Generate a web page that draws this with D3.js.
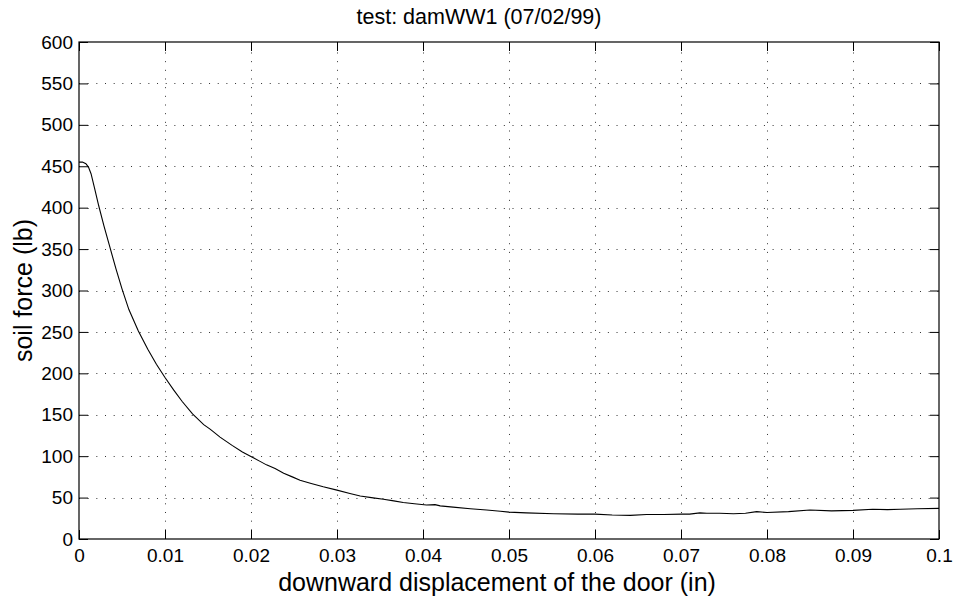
<!DOCTYPE html>
<html>
<head>
<meta charset="utf-8">
<script src="https://cdn.jsdelivr.net/npm/d3@7"></script>
<style>
  html, body { margin: 0; padding: 0; background: #fff; }
  svg { display: block; font-family: "Liberation Sans", Arial, Helvetica, sans-serif; }
</style>
</head>
<body>
<div id="chart"></div>
<script>
/* soil force vs downward door displacement - single line chart */

var titleText = 'test: damWW1 (07/02/99)';
var xLabel    = 'downward displacement of the door (in)';
var yLabel    = 'soil force (lb)';

var xTicks = [0, 0.01, 0.02, 0.03, 0.04, 0.05, 0.06, 0.07, 0.08, 0.09, 0.1];
var xTickLabels = ['0', '0.01', '0.02', '0.03', '0.04', '0.05', '0.06', '0.07', '0.08', '0.09', '0.1'];
var yTicks = [0, 50, 100, 150, 200, 250, 300, 350, 400, 450, 500, 550, 600];

// displacement (in)
var dispIn = [0, 0.0004, 0.0008, 0.0011, 0.0014, 0.0018, 0.0023, 0.0029, 0.0036, 0.0043,
    0.005, 0.0058, 0.0069, 0.008, 0.009, 0.01, 0.011, 0.012, 0.0132, 0.0145,
    0.0152, 0.0155, 0.0164, 0.0178, 0.019, 0.0201, 0.021, 0.0218, 0.0228, 0.0238,
    0.0248, 0.0257, 0.027, 0.0284, 0.03, 0.0315, 0.0327, 0.034, 0.0354, 0.0366,
    0.0377, 0.039, 0.0404, 0.0414, 0.042, 0.0435, 0.0455, 0.0474, 0.049, 0.05,
    0.052, 0.0552, 0.058, 0.06, 0.062, 0.0641, 0.066, 0.068, 0.0701, 0.071,
    0.0722, 0.073, 0.0745, 0.0761, 0.0775, 0.0788, 0.08, 0.0825, 0.085, 0.0875,
    0.09, 0.0923, 0.094, 0.0955, 0.0975, 0.1];
// soil force (lb)
var forceLb = [455, 455, 453, 449, 441, 424, 402, 378, 352, 326,
    302, 277, 251, 229, 211, 195, 180, 166, 151, 138,
    133, 130.5, 123, 113, 105, 99,
    94, 89.5, 85, 79.5, 75, 71, 67, 63, 59, 55,
    52, 50, 48, 46, 44, 42.5, 41, 41.5, 40, 38.5,
    36.5, 35, 33.5, 32.5, 31.5, 30.5, 30, 30, 29, 28.5,
    29.5, 29.5, 30, 30, 31.5, 31, 31, 30.5, 31, 33,
    32, 33, 35, 34, 34.5, 36, 35.5, 36, 36.5, 37];

var W = 957, H = 604;
var m = {top: 42, right: 18, bottom: 65, left: 79};
var iw = W - m.left - m.right, ih = H - m.top - m.bottom;

var svg = d3.select('#chart').append('svg').attr('width', W).attr('height', H);
svg.append('rect').attr('width', W).attr('height', H).attr('fill', '#fff');
var g = svg.append('g').attr('transform', 'translate(' + m.left + ',' + m.top + ')');

var x = d3.scaleLinear().domain([0, 0.1]).range([0, iw]);
var y = d3.scaleLinear().domain([0, 600]).range([ih, 0]);

// dotted grid
g.selectAll('line.gx').data(xTicks.slice(1, -1)).join('line').attr('class', 'gx')
    .attr('x1', function(d){ return Math.round(x(d)) + 0.5; }).attr('x2', function(d){ return Math.round(x(d)) + 0.5; })
    .attr('y1', ih).attr('y2', 0)
    .attr('stroke', '#333').attr('stroke-width', 1).attr('stroke-dasharray', '1,7.67');
g.selectAll('line.gy').data(yTicks.slice(1, -1)).join('line').attr('class', 'gy')
    .attr('x1', 0).attr('x2', iw)
    .attr('y1', function(d){ return Math.round(y(d)) + 0.5; }).attr('y2', function(d){ return Math.round(y(d)) + 0.5; })
    .attr('stroke', '#333').attr('stroke-width', 1).attr('stroke-dasharray', '1,7.67');

// axes, ticks inward
function styleAxis(sel) {
    sel.select('.domain').remove();
    sel.selectAll('.tick line').attr('stroke', '#000');
    sel.selectAll('.tick text').attr('fill', '#000').style('font-size', '19px')
        .style('font-family', '"Liberation Sans", Arial, Helvetica, sans-serif');
}
g.append('g').attr('transform', 'translate(0,' + ih + ')')
    .call(d3.axisBottom(x).tickValues(xTicks).tickFormat(function(d, i){ return xTickLabels[i]; })
        .tickSizeInner(-9).tickSizeOuter(0).tickPadding(10))
    .call(styleAxis);
g.append('g')
    .call(d3.axisTop(x).tickValues(xTicks).tickFormat('').tickSizeInner(-9).tickSizeOuter(0))
    .call(styleAxis);
g.append('g')
    .call(d3.axisLeft(y).tickValues(yTicks).tickSizeInner(-9).tickSizeOuter(0).tickPadding(6))
    .call(styleAxis);
g.append('g').attr('transform', 'translate(' + iw + ',0)')
    .call(d3.axisRight(y).tickValues(yTicks).tickFormat('').tickSizeInner(-9).tickSizeOuter(0))
    .call(styleAxis);

// box
g.append('rect').attr('x', 0).attr('y', 0).attr('width', iw).attr('height', ih)
    .attr('fill', 'none').attr('stroke', '#000').attr('stroke-width', 1.2);

// data line
var pts = dispIn.map(function(d, i){ return [d, forceLb[i]]; });
var line = d3.line().x(function(d){ return x(d[0]); }).y(function(d){ return y(d[1]); });
g.append('path').datum(pts).attr('d', line)
    .attr('fill', 'none').attr('stroke', '#000').attr('stroke-width', 1.1);

// labels
svg.append('text').attr('x', 479).attr('y', 24).attr('text-anchor', 'middle')
    .style('font-size', '21.5px').text(titleText);
svg.append('text').attr('x', 497).attr('y', 591).attr('text-anchor', 'middle')
    .style('font-size', '25px').text(xLabel);
svg.append('text').attr('transform', 'translate(32,' + (m.top + ih / 2) + ') rotate(-90)')
    .attr('text-anchor', 'middle').style('font-size', '25px').text(yLabel);
</script>
</body>
</html>
